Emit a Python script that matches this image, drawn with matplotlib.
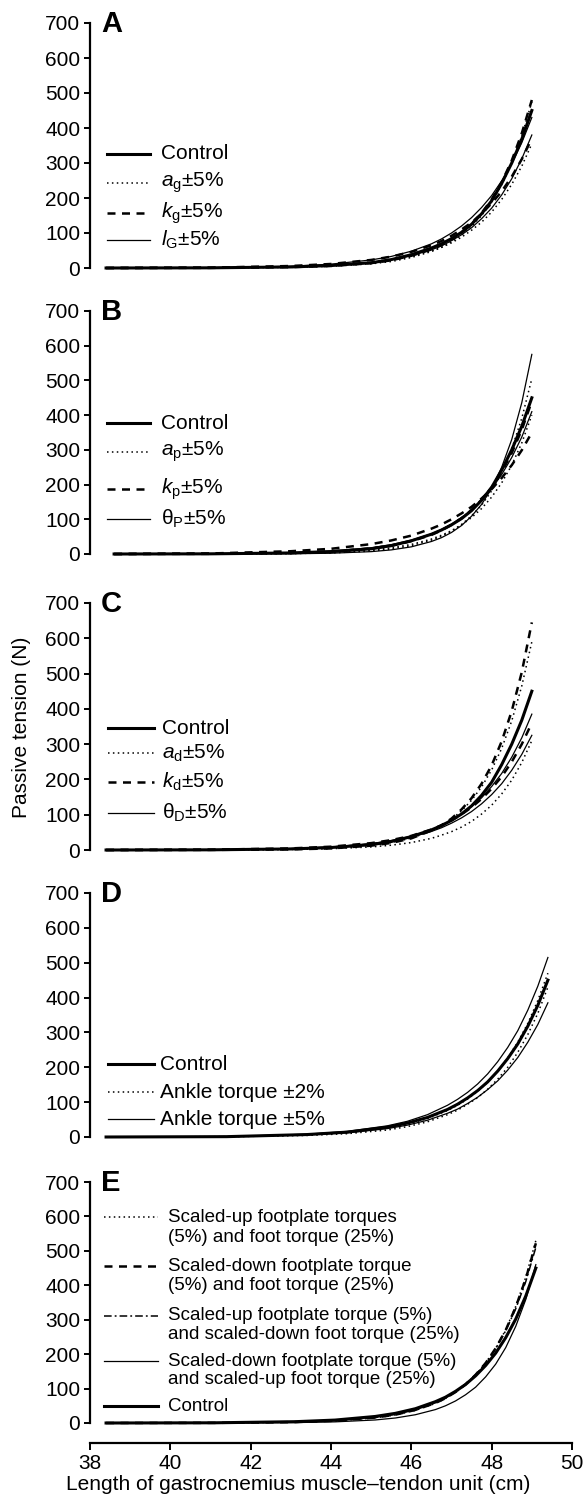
import matplotlib
matplotlib.use("Agg")
import matplotlib.pyplot as plt

plt.rcParams["font.family"] = ["Liberation Sans", "DejaVu Sans"]
plt.rcParams["mathtext.fontset"] = "custom"
plt.rcParams["mathtext.rm"] = "Liberation Sans"
plt.rcParams["mathtext.it"] = "Liberation Sans:italic"

# ---- data (length in cm, passive tension in N) ----
X_ABC = [38.4, 41, 43, 44, 45, 45.5, 46, 46.5, 46.75, 47, 47.25, 47.5, 47.75,
         48, 48.25, 48.5, 48.75, 49.0]
X_B = [38.6, 41, 43, 44, 45, 45.5, 46, 46.5, 46.75, 47, 47.25, 47.5, 47.75,
       48, 48.25, 48.5, 48.75, 49.0]
X_D = [38.4, 41.4, 43.4, 44.4, 45.4, 45.9, 46.4, 46.9, 47.15, 47.4, 47.65, 47.9,
       48.15, 48.4, 48.65, 48.9, 49.15, 49.4]
X_E = [38.4, 41.1, 43.1, 44.1, 45.1, 45.6, 46.1, 46.6, 46.85, 47.1, 47.35, 47.6,
       47.85, 48.1, 48.35, 48.6, 48.85, 49.1]

control = [0, 0.5, 3, 7, 15, 24, 38, 57, 69, 84, 102, 125, 155, 192, 242, 300, 368, 450]

# panel A
a_g_up = [0, 0.3, 1.9, 4.7, 12, 18.5, 30, 47, 59, 75, 94, 119, 150, 189, 238, 299, 377, 475]
a_g_dn = [0, 0.5, 3, 6.7, 15, 22, 33, 49, 59, 72, 88, 108, 131, 160, 196, 239, 291, 355]
k_g_up = [0, 0.4, 2.5, 6, 14, 22, 35, 53, 66, 82, 101, 126, 157, 196, 245, 307, 385, 480]
k_g_dn = [0, 1, 5.7, 11.5, 23, 32.5, 46, 65, 77, 92, 110, 130, 155, 185, 219, 261, 311, 370]
l_G_up = [0, 0.8, 5, 11, 23, 33, 48, 69, 83, 100, 120, 144, 173, 207, 249, 298, 358, 430]
l_G_dn = [0, 0.5, 3.2, 7, 16, 23.5, 35, 52, 63, 78, 95, 115, 141, 171, 209, 255, 312, 380]

# panel B
a_p_up = [0, 0.2, 1.1, 3.1, 8.6, 14.3, 24, 40, 51, 66, 85, 110, 141, 182, 235, 303, 391, 505]
a_p_dn = [0, 0.3, 1.9, 4.6, 11.3, 17.6, 27.5, 43, 54, 67, 84, 105, 131, 164, 205, 256, 320, 400]
k_p_up = [0, 1.5, 8, 15, 28.5, 39, 53, 73, 85, 100, 117, 136, 160, 187, 219, 256, 299, 350]
k_p_dn = [0, 0.5, 3, 7, 16, 24, 37, 55, 68, 84, 103, 127, 156, 192, 236, 291, 358, 440]
th_P_up = [0, 0.1, 0.7, 2.2, 6.8, 11.8, 20.6, 36, 47, 62, 82, 109, 143, 189, 250, 330, 436, 575]
th_P_dn = [0, 0.7, 3.9, 8.4, 18, 27, 40, 58, 71, 86, 105, 127, 155, 188, 229, 278, 337, 410]

# panel C
a_d_up = [0, 0.3, 2, 5, 13, 21, 33.5, 54, 69, 87, 111, 141, 179, 227, 288, 366, 465, 590]
a_d_dn = [0, 0.2, 1.5, 3.6, 8.7, 13.6, 21, 33, 42, 52, 65, 81, 102, 127, 159, 198, 248, 310]
k_d_up = [0, 0.3, 1.7, 4.5, 12.3, 20, 33, 55, 70, 89, 115, 147, 188, 240, 308, 394, 504, 645]
k_d_dn = [0, 0.8, 4.5, 9.4, 19.5, 28, 40, 58, 70, 84, 101, 121, 145, 174, 208, 250, 300, 360]
th_D_up = [0, 0.7, 4, 8.5, 18, 27, 39, 57, 69, 84, 101, 123, 148, 180, 217, 263, 318, 385]
th_D_dn = [0, 0.7, 4.1, 8.5, 17.6, 25, 36.5, 52.5, 63, 76, 91, 109, 131, 157, 188, 226, 271, 325]

# panel D
control_D = [0, 1, 7, 14, 28, 40, 56, 79, 94, 112, 133, 158, 189, 225, 267, 318, 378, 450]
ankle2_up = [0, 1, 6, 12.3, 25.5, 37, 53, 76, 91, 109, 131, 157, 189, 227, 272, 326, 392, 470]
ankle2_dn = [0, 0.7, 4.5, 9.5, 20, 29.7, 43.5, 64, 77, 94, 113, 137, 166, 200, 243, 294, 355, 430]
ankle5_up = [0, 1.2, 8, 16, 32, 45, 64, 91, 108, 128, 152, 181, 216, 257, 305, 364, 433, 515]
ankle5_dn = [0, 0.9, 6, 12, 24, 34, 48, 68, 80, 96, 114, 136, 161, 192, 228, 272, 323, 385]

# panel E
e_up_up = [0, 0.4, 2.5, 6, 15, 23, 36.5, 57, 71, 89, 111, 139, 174, 217, 271, 339, 424, 530]
e_dn_dn = [0, 0.4, 2.7, 6.5, 15.8, 24, 38, 58, 72, 90, 112, 140, 174, 217, 270, 337, 419, 522]
e_up_dn = [0, 0.4, 2.9, 6.8, 16, 25, 38.5, 59, 73, 91, 113, 140, 174, 216, 268, 332, 411, 510]
e_dn_up = [0, 0.2, 1.2, 3.3, 8.8, 14.5, 24, 39, 50, 64, 82, 104, 134, 171, 219, 281, 359, 460]
control_E = [0, 0.6, 3.8, 8.5, 19, 28, 41.5, 62, 75, 92, 112, 137, 167, 203, 248, 302, 369, 450]

Y_TICKS = [0, 100, 200, 300, 400, 500, 600, 700]
X_TICKS = [38, 40, 42, 44, 46, 48, 50]

# ---- styles ----
STY = {
    "control": dict(color="black", lw=2.2, ls="-"),
    "thin": dict(color="black", lw=0.9, ls="-"),
    "dotted": dict(color="black", lw=1.1, ls=(0, (1, 2.2))),
    "dashed": dict(color="black", lw=1.8, ls=(0, (3.2, 2.6))),
    "dashdot": dict(color="black", lw=1.1, ls=(0, (5, 2, 1.2, 2))),
}

W, H = 587, 1498
# pixel rows of the 700 and 0 ticks for each panel
ROWS = [(23, 268), (311, 554), (603, 850), (893, 1137), (1182, 1423)]
PAD = 10  # data units below 0 / above 700

fig = plt.figure(figsize=(W / 100, H / 100), dpi=100)


def make_axes(p700, p0):
    s = (p0 - p700) / 700.0
    top = p700 - PAD * s
    bot = p0 + PAD * s
    ax = fig.add_axes([90 / W, 1 - bot / H, (572 - 90) / W, (bot - top) / H])
    ax.set_xlim(38, 50)
    ax.set_ylim(-PAD, 700 + PAD)
    for side in ("top", "right", "bottom"):
        ax.spines[side].set_visible(False)
    ax.spines["left"].set_bounds(0, 700)
    ax.spines["left"].set_linewidth(1.6)
    ax.set_yticks(Y_TICKS)
    ax.tick_params(axis="y", direction="out", length=4, width=1.4,
                   labelsize=15, pad=3)
    ax.set_xticks([])
    return ax


def entry(ax, y, style, label, x0=38.42, x1=39.5, tx=39.78, size=15):
    ax.plot([x0, x1], [y, y], clip_on=False, **STY[style])
    ax.text(tx, y, label, fontsize=size, va="center", ha="left")


def letter(ax, s):
    ax.text(38.28, 697, s, fontsize=21, fontweight="bold", va="center", ha="left")


axes = [make_axes(*r) for r in ROWS]

# A
ax = axes[0]
for ys, st in [(a_g_up, "dotted"), (a_g_dn, "dotted"), (k_g_up, "dashed"),
               (k_g_dn, "dashed"), (l_G_up, "thin"), (l_G_dn, "thin"),
               (control, "control")]:
    ax.plot(X_ABC, ys, **STY[st])
letter(ax, "A")
entry(ax, 326, "control", "Control")
entry(ax, 243, "dotted", r"$\it{a}_{\rm g}$±5%")
entry(ax, 157, "dashed", r"$\it{k}_{\rm g}$±5%")
entry(ax, 80, "thin", r"$\it{l}_{\rm G}$±5%")

# B
ax = axes[1]
for ys, st in [(a_p_up, "dotted"), (a_p_dn, "dotted"), (k_p_up, "dashed"),
               (k_p_dn, "dashed"), (th_P_up, "thin"), (th_P_dn, "thin"),
               (control, "control")]:
    ax.plot(X_B, ys, **STY[st])
letter(ax, "B")
entry(ax, 377, "control", "Control")
entry(ax, 294, "dotted", r"$\it{a}_{\rm p}$±5%")
entry(ax, 187, "dashed", r"$\it{k}_{\rm p}$±5%")
entry(ax, 101, "thin", r"θ$_{\rm P}$±5%")

# C
ax = axes[2]
for ys, st in [(a_d_up, "dotted"), (a_d_dn, "dotted"), (k_d_up, "dashed"),
               (k_d_dn, "dashed"), (th_D_up, "thin"), (th_D_dn, "thin"),
               (control, "control")]:
    ax.plot(X_ABC, ys, **STY[st])
letter(ax, "C")
cx = dict(x0=38.45, x1=39.6, tx=39.8)
entry(ax, 345, "control", "Control", **cx)
entry(ax, 275, "dotted", r"$\it{a}_{\rm d}$±5%", **cx)
entry(ax, 193, "dashed", r"$\it{k}_{\rm d}$±5%", **cx)
entry(ax, 105, "thin", r"θ$_{\rm D}$±5%", **cx)

# D
ax = axes[3]
for ys, st in [(ankle2_up, "dotted"), (ankle2_dn, "dotted"),
               (ankle5_up, "thin"), (ankle5_dn, "thin"), (control_D, "control")]:
    ax.plot(X_D, ys, **STY[st])
letter(ax, "D")
dx = dict(x0=38.45, x1=39.6, tx=39.75)
entry(ax, 208, "control", "Control", **dx)
entry(ax, 128, "dotted", "Ankle torque ±2%", **dx)
entry(ax, 51, "thin", "Ankle torque ±5%", **dx)

# E
ax = axes[4]
for ys, st in [(e_up_up, "dotted"), (e_dn_dn, "dashed"), (e_up_dn, "dashdot"),
               (e_dn_up, "thin"), (control_E, "control")]:
    ax.plot(X_E, ys, **STY[st])
letter(ax, "E")
ex = dict(x0=38.35, x1=39.7, tx=39.95, size=13.5)
entry(ax, 598, "dotted", "Scaled-up footplate torques", **ex)
ax.text(39.95, 540, "(5%) and foot torque (25%)", fontsize=13.5, va="center")
entry(ax, 455, "dashed", "Scaled-down footplate torque", **ex)
ax.text(39.95, 398, "(5%) and foot torque (25%)", fontsize=13.5, va="center")
entry(ax, 311, "dashdot", "Scaled-up footplate torque (5%)", **ex)
ax.text(39.95, 258, "and scaled-down foot torque (25%)", fontsize=13.5, va="center")
entry(ax, 180, "thin", "Scaled-down footplate torque (5%)", **ex)
ax.text(39.95, 125, "and scaled-up foot torque (25%)", fontsize=13.5, va="center")
entry(ax, 49, "control", "Control", **ex)

ax.spines["bottom"].set_visible(True)
ax.spines["bottom"].set_position(("outward", 12))
ax.spines["bottom"].set_linewidth(1.6)
ax.set_xticks(X_TICKS)
ax.tick_params(axis="x", direction="out", length=5, width=1.4, labelsize=15, pad=3)

fig.text(22 / W, 1 - 727 / H, "Passive tension (N)", rotation=90,
         fontsize=15, ha="center", va="center")
fig.text(298 / W, 1 - 1484 / H, "Length of gastrocnemius muscle\u2013tendon unit (cm)",
         fontsize=15, ha="center", va="center")

fig.savefig("out.png", dpi=100)
